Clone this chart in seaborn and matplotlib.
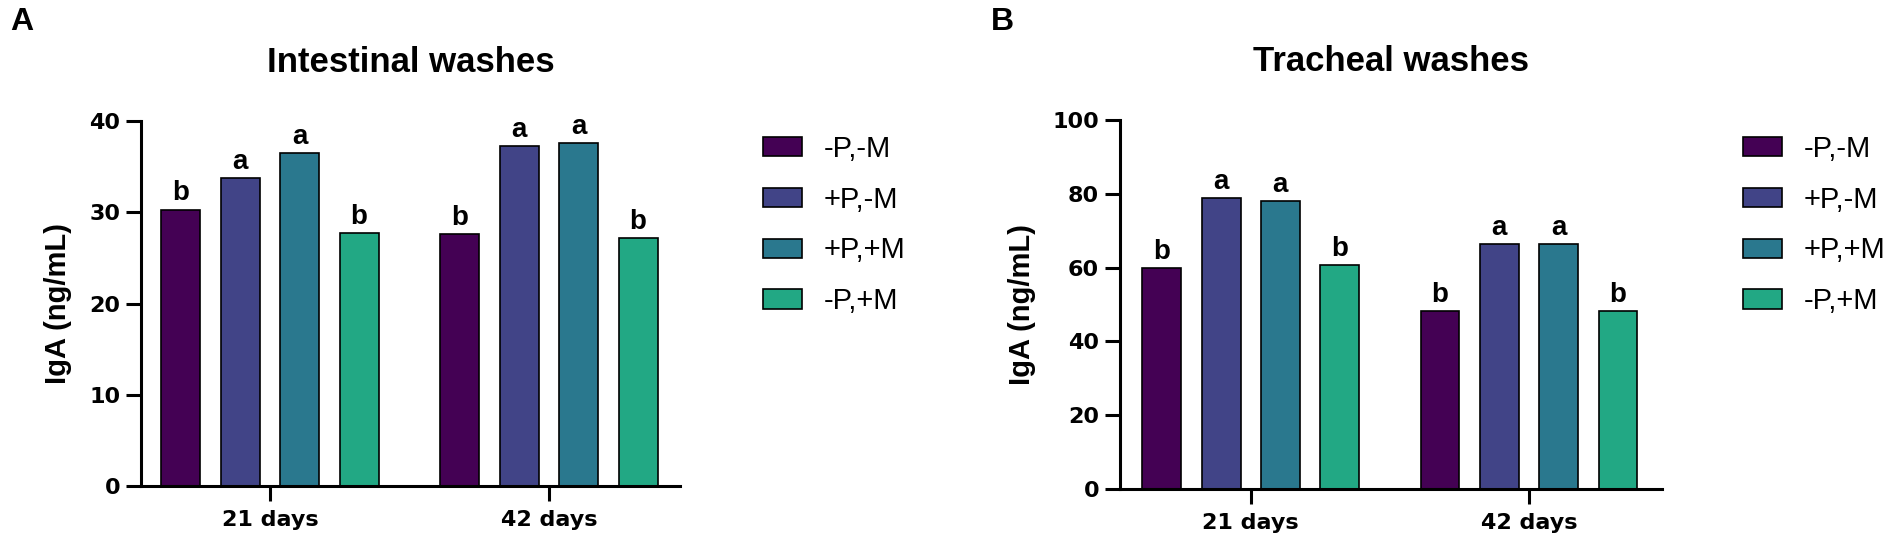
import matplotlib
matplotlib.use("Agg")
import matplotlib.pyplot as plt
from matplotlib.patches import Patch
import numpy as np
import pandas as pd
import seaborn as sns

# ---------------- data ----------------
days = ["21 days", "42 days"]
groups = ["-P,-M", "+P,-M", "+P,+M", "-P,+M"]
colors = ["#440154", "#414487", "#2A788E", "#22A884"]

# Intestinal washes, IgA (ng/mL), per group: [21 days, 42 days]
intestinal_mP_mM = [30.3, 27.6]
intestinal_pP_mM = [33.8, 37.3]
intestinal_pP_pM = [36.5, 37.6]
intestinal_mP_pM = [27.7, 27.2]
intestinal_letters = [["b", "b"], ["a", "a"], ["a", "a"], ["b", "b"]]

# Tracheal washes, IgA (ng/mL), per group: [21 days, 42 days]
tracheal_mP_mM = [60.0, 48.3]
tracheal_pP_mM = [78.8, 66.5]
tracheal_pP_pM = [78.0, 66.5]
tracheal_mP_pM = [60.8, 48.2]
tracheal_letters = [["b", "b"], ["a", "a"], ["a", "a"], ["b", "b"]]

intestinal_ticks = [0, 10, 20, 30, 40]
tracheal_ticks = [0, 20, 40, 60, 80, 100]


def make_df(series):
    rows = []
    for g, vals in zip(groups, series):
        for d, v in zip(days, vals):
            rows.append({"day": d, "group": g, "value": v})
    return pd.DataFrame(rows)


df_int = make_df([intestinal_mP_mM, intestinal_pP_mM, intestinal_pP_pM, intestinal_mP_pM])
df_tra = make_df([tracheal_mP_mM, tracheal_pP_mM, tracheal_pP_pM, tracheal_mP_pM])

# ---------------- style ----------------
sns.set_style("ticks")
plt.rcParams["font.family"] = ["Liberation Sans", "DejaVu Sans"]
plt.rcParams["text.color"] = "black"
plt.rcParams["axes.labelcolor"] = "black"
plt.rcParams["axes.titlecolor"] = "black"
plt.rcParams["xtick.color"] = "black"
plt.rcParams["ytick.color"] = "black"
plt.rcParams["axes.edgecolor"] = "black"

W, H = 1902, 552
fig = plt.figure(figsize=(W / 100, H / 100), dpi=100)

axA = fig.add_axes([141 / W, (H - 486) / H, 539 / W, 365 / H])
axB = fig.add_axes([1120 / W, (H - 489) / H, 542 / W, 369 / H])


def draw_panel(ax, df, letters, ticks, xlim, title):
    sns.barplot(data=df, x="day", y="value", hue="group", order=days,
                hue_order=groups, palette=colors, saturation=1,
                width=0.853, gap=0.343, edgecolor="black", linewidth=1.2,
                errorbar=None, legend=False, ax=ax)
    ax.set_ylim(ticks[0], ticks[-1])
    ax.set_yticks(ticks)
    ax.set_xlim(*xlim)
    sns.despine(ax=ax)
    for s in ("left", "bottom"):
        ax.spines[s].set_linewidth(2.2)
        ax.spines[s].set_color("black")
    ax.tick_params(axis="both", length=10.5, width=2.2, color="black",
                   labelsize=16, labelcolor="black")
    ax.tick_params(axis="y", pad=4.5)
    ax.tick_params(axis="x", pad=7)
    for lab in ax.get_xticklabels() + ax.get_yticklabels():
        lab.set_fontweight("bold")
        lab.set_family("DejaVu Sans")
        lab.set_color("black")
    ax.set_xlabel("")
    ax.set_ylabel("IgA (ng/mL)", fontsize=21, fontweight="bold", labelpad=12,
                  color="black")
    ax.set_title(title, fontsize=25, fontweight="bold", pad=35, color="black")
    for ci, cont in enumerate(ax.containers):
        for bj, bar in enumerate(cont):
            xc = bar.get_x() + bar.get_width() / 2
            ax.annotate(letters[ci][bj], (xc, bar.get_height()),
                        xytext=(0, 6.5), textcoords="offset points",
                        ha="center", va="baseline", fontsize=20,
                        fontweight="bold", color="black")


draw_panel(axA, df_int, intestinal_letters, intestinal_ticks, (-0.462, 1.47),
           "Intestinal washes")
draw_panel(axB, df_tra, tracheal_letters, tracheal_ticks, (-0.47, 1.478),
           "Tracheal washes")

handles = [Patch(facecolor=c, edgecolor="black", linewidth=1.2) for c in colors]
for x0 in (763, 1743):
    leg = fig.legend(handles, groups, loc="upper left",
                     bbox_to_anchor=(x0 / W, 1 - 135 / H), frameon=False,
                     fontsize=21, handlelength=1.34, handleheight=0.65,
                     handletextpad=0.75, labelspacing=0.78, borderpad=0,
                     borderaxespad=0)
    for t in leg.get_texts():
        t.set_color("black")

fig.text(10 / W, 1 - 30 / H, "A", fontsize=23, fontweight="bold", va="baseline",
         color="black")
fig.text(991 / W, 1 - 30 / H, "B", fontsize=23, fontweight="bold", va="baseline",
         color="black")

fig.savefig("out.png", dpi=100, facecolor="white")
